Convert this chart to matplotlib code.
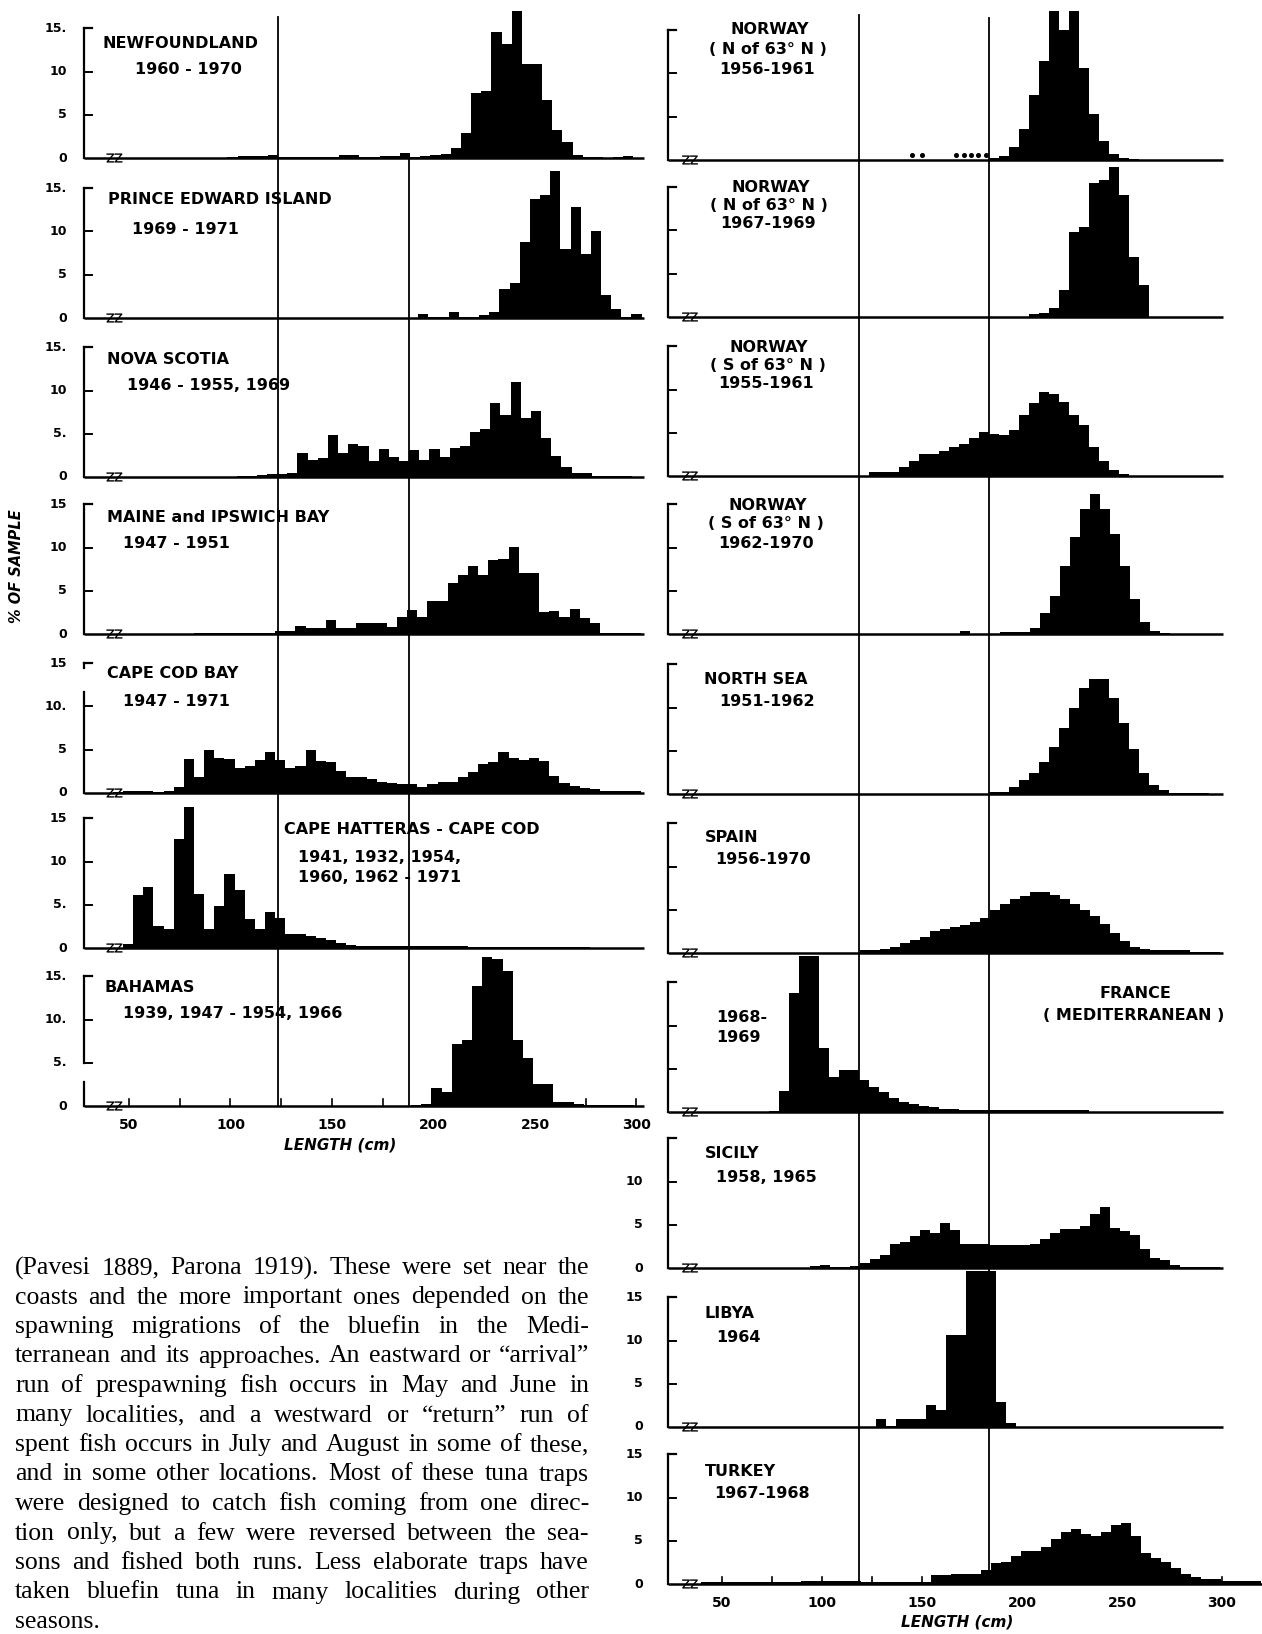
import matplotlib
matplotlib.use("Agg")
import matplotlib.pyplot as plt
from matplotlib.lines import Line2D

# % of sample in 5 cm length classes; *_x0 = lower edge of first class (cm)
newfoundland_x0 = 98.5
newfoundland_pct = [0.1, 0.2, 0.2, 0.2, 0.3, 0.1, 0.1, 0.1, 0.1, 0.1,
                    0.1, 0.3, 0.3, 0.1, 0.1, 0.2, 0.2, 0.6, 0.1, 0.2,
                    0.3, 0.5, 1.2, 2.9, 7.5, 7.8, 14.6, 13.2, 17.0, 10.9,
                    10.9, 6.7, 3.2, 1.9, 0.3, 0.1, 0.1, 0.05, 0.1, 0.2]

pei_x0 = 192.5
pei_pct = [0.5, 0.1, 0.1, 0.7, 0.1, 0.1, 0.3, 0.7, 3.4, 4.1, 8.8,
           13.8, 14.2, 17.0, 8.0, 12.8, 7.4, 10.0, 2.7, 1.0, 0.1, 0.5]

nova_scotia_x0 = 103
nova_scotia_pct = [0.1, 0.1, 0.2, 0.3, 0.4, 0.5, 2.8, 2.0, 2.2, 4.9,
                   2.8, 3.8, 3.6, 1.8, 3.2, 2.3, 1.8, 3.1, 2.0, 3.2,
                   2.3, 3.4, 3.6, 5.2, 5.6, 8.5, 7.2, 11.0, 6.8, 7.6,
                   4.5, 2.4, 1.1, 0.5, 0.5, 0.1, 0.1, 0.1, 0.1]

maine_x0 = 82
maine_pct = [0.1, 0.1, 0.1, 0.1, 0.1, 0.1, 0.1, 0.1, 0.3, 0.4,
             0.9, 0.75, 0.75, 1.6, 0.75, 0.75, 1.25, 1.25, 1.3, 0.8,
             2.0, 2.8, 2.0, 3.8, 3.8, 5.9, 6.8, 7.9, 6.8, 8.6,
             8.7, 10.1, 7.0, 7.0, 2.6, 2.7, 2.0, 2.9, 1.8, 1.25,
             0.1, 0.1, 0.1, 0.1]

cape_cod_bay_x0 = 42
cape_cod_bay_pct = [0.1, 0.2, 0.2, 0.2, 0.1, 0.2, 0.65, 3.9, 1.9, 5.0,
                    4.0, 3.9, 2.9, 3.1, 3.8, 4.7, 3.8, 2.9, 3.1, 5.0,
                    3.7, 3.6, 2.6, 1.8, 1.8, 1.6, 1.3, 1.1, 1.0, 1.0,
                    0.7, 1.0, 1.3, 1.3, 1.8, 2.4, 3.4, 3.6, 4.7, 4.0,
                    3.8, 4.0, 3.7, 2.0, 1.2, 0.8, 0.55, 0.5, 0.25, 0.25,
                    0.25, 0.2]

hatteras_x0 = 47
hatteras_pct = [0.5, 6.1, 7.0, 2.6, 2.2, 12.6, 16.3, 6.3, 2.2, 4.8,
                8.6, 6.7, 3.4, 2.2, 4.2, 3.5, 1.6, 1.6, 1.4, 1.2,
                0.9, 0.6, 0.3, 0.2, 0.2, 0.2, 0.2, 0.2, 0.2, 0.2,
                0.2, 0.2, 0.2, 0.2, 0.1, 0.1, 0.1, 0.1, 0.1, 0.1,
                0.1, 0.1, 0.1, 0.1, 0.1, 0.1, 0.05, 0.05, 0.05]

bahamas_x0 = 189
bahamas_pct = [0.1, 0.25, 2.1, 1.6, 7.2, 7.6, 13.9, 17.2, 17.0, 15.6,
               7.6, 5.6, 2.6, 2.6, 0.45, 0.45, 0.2, 0.1, 0.1, 0.1, 0.1, 0.1]

norway_n1_x0 = 183.5
norway_n1_pct = [0.2, 0.5, 1.5, 3.6, 7.5, 11.5, 17.2, 15.0, 17.2, 10.6,
                 5.3, 2.2, 0.7, 0.2, 0.1]
norway_n1_dots = [145, 150, 167, 171, 174.5, 178, 182]

norway_n2_x0 = 203.5
norway_n2_pct = [0.4, 0.5, 1.0, 3.1, 9.8, 10.4, 15.5, 15.8, 17.3, 14.1, 6.9, 3.7]

norway_s1_x0 = 123.5
norway_s1_pct = [0.45, 0.45, 0.45, 1.0, 1.7, 2.5, 2.6, 2.9, 3.3, 3.7,
                 4.4, 5.1, 4.8, 4.7, 5.3, 7.0, 8.4, 9.7, 9.5, 8.5,
                 7.0, 5.9, 3.3, 1.7, 0.7, 0.2, 0.05, 0.05, 0.05, 0.05,
                 0.05, 0.05, 0.05, 0.05, 0.05]

norway_s2_x0 = 169
norway_s2_pct = [0.35, 0.0, 0.0, 0.05, 0.25, 0.25, 0.25, 0.65, 2.45, 4.4,
                 7.9, 11.2, 14.4, 16.2, 14.4, 11.6, 7.9, 4.0, 1.4, 0.3, 0.1]

north_sea_x0 = 183.5
north_sea_pct = [0.25, 0.25, 0.8, 1.6, 2.4, 3.75, 5.45, 7.65, 9.9, 12.2,
                 13.3, 13.3, 11.1, 8.2, 5.2, 2.4, 1.0, 0.45, 0.1, 0.1, 0.1, 0.1]

spain_x0 = 119
spain_pct = [0.3, 0.3, 0.5, 0.75, 1.1, 1.5, 1.9, 2.6, 2.8, 3.0,
             3.25, 3.6, 4.1, 5.0, 5.7, 6.2, 6.6, 7.0, 7.0, 6.7,
             6.3, 5.7, 5.0, 4.3, 3.3, 2.3, 1.4, 0.75, 0.5, 0.3,
             0.3, 0.3, 0.3, 0.1, 0.1, 0.1]

france_x0 = 73.5
france_pct = [0.1, 2.4, 13.7, 18.0, 18.0, 7.4, 4.0, 4.9, 4.9, 3.7,
              2.9, 2.3, 1.6, 1.1, 0.95, 0.75, 0.55, 0.4, 0.3, 0.2,
              0.2, 0.2, 0.2, 0.2, 0.2, 0.2, 0.2, 0.2, 0.2, 0.2, 0.2, 0.2]

sicily_x0 = 94
sicily_pct = [0.2, 0.35, 0.1, 0.1, 0.2, 0.6, 1.0, 1.5, 2.8, 3.0,
              3.7, 4.4, 4.1, 5.2, 4.4, 2.8, 2.8, 2.8, 2.7, 2.7,
              2.7, 2.7, 2.8, 3.4, 4.0, 4.5, 4.5, 4.9, 6.3, 7.1,
              4.6, 4.3, 3.8, 2.2, 1.2, 0.9, 0.4, 0.15, 0.15, 0.15, 0.15]

libya_x0 = 127
libya_pct = [0.9, 0.1, 0.9, 0.9, 0.9, 2.5, 2.0, 10.6, 10.6, 18.0,
             18.0, 18.0, 2.9, 0.5]

turkey_x0 = 39.5
turkey_pct = [0.2, 0.2, 0.2, 0.2, 0.2, 0.2, 0.2, 0.2, 0.2, 0.2,
              0.35, 0.35, 0.35, 0.35, 0.35, 0.35, 0.25, 0.25, 0.25, 0.25,
              0.25, 0.25, 0.25, 1.0, 1.0, 1.2, 1.2, 1.15, 1.6, 2.4,
              2.6, 3.2, 3.8, 3.8, 4.3, 5.2, 6.0, 6.4, 5.8, 5.6,
              6.0, 6.8, 7.1, 5.5, 3.6, 3.0, 2.6, 1.9, 1.2, 0.85,
              0.55, 0.55, 0.4, 0.4, 0.4, 0.4]

length_ticks = [50, 100, 150, 200, 250, 300]
ref_lines_left = [123.5, 188]
ref_lines_right = [118.5, 183.5]

paragraph = [
    "(Pavesi 1889, Parona 1919). These were set near the",
    "coasts and the more important ones depended on the",
    "spawning migrations of the bluefin in the Medi-",
    "terranean and its approaches. An eastward or \u201carrival\u201d",
    "run of prespawning fish occurs in May and June in",
    "many localities, and a westward or \u201creturn\u201d run of",
    "spent fish occurs in July and August in some of these,",
    "and in some other locations. Most of these tuna traps",
    "were designed to catch fish coming from one direc-",
    "tion only, but a few were reversed between the sea-",
    "sons and fished both runs. Less elaborate traps have",
    "taken bluefin tuna in many localities during other",
    "seasons.",
]

# ---------------- layout (pixels) ----------------
W, H = 1262, 1634
U = 8.65      # px per 1 %
BIN = 5
COLS = [dict(left=84, right=644, px50=129, k=2.03, lab=67),
        dict(left=668, right=1223, px50=722, k=2.0, lab=643)]


def cm2px(col, cm):
    c = COLS[col]
    return c['px50'] + (cm - 50) * c['k']


def px2cm(col, px):
    c = COLS[col]
    return 50 + (px - c['px50']) / c['k']


panels = [
    dict(col=0, zero=158, x0=newfoundland_x0, pct=newfoundland_pct,
         ylab=['0', '5', '10', '15.'],
         titles=[('NEWFOUNDLAND', 102, 43, 'left'), ('1960 - 1970', 135, 70, 'left')]),
    dict(col=0, zero=318, x0=pei_x0, pct=pei_pct,
         ylab=['0', '5', '10', '15.'],
         titles=[('PRINCE EDWARD ISLAND', 108, 200, 'left'), ('1969 - 1971', 132, 229, 'left')]),
    dict(col=0, zero=477, x0=nova_scotia_x0, pct=nova_scotia_pct,
         ylab=['0', '5.', '10', '15.'],
         titles=[('NOVA SCOTIA', 107, 360, 'left'), ('1946 - 1955, 1969', 127, 385, 'left')]),
    dict(col=0, zero=634, x0=maine_x0, pct=maine_pct,
         ylab=['0', '5', '10', '15'],
         titles=[('MAINE and IPSWICH BAY', 107, 517, 'left'), ('1947 - 1951', 123, 543, 'left')]),
    dict(col=0, zero=793, x0=cape_cod_bay_x0, pct=cape_cod_bay_pct,
         ylab=['0', '5', '10.', '15'], gap=(11.7, 14.4),
         titles=[('CAPE COD BAY', 107, 674, 'left'), ('1947 - 1971', 123, 702, 'left')]),
    dict(col=0, zero=948, x0=hatteras_x0, pct=hatteras_pct,
         ylab=['0', '5.', '10', '15'],
         titles=[('CAPE HATTERAS - CAPE COD', 284, 830, 'left'),
                 ('1941, 1932, 1954,', 298, 858, 'left'), ('1960, 1962 - 1971', 298, 877, 'left')]),
    dict(col=0, zero=1106, x0=bahamas_x0, pct=bahamas_pct,
         ylab=['0', '5.', '10.', '15.'], gap=(2.8, 5.0), bottom=True,
         titles=[('BAHAMAS', 104, 988, 'left'), ('1939, 1947 - 1954, 1966', 123, 1013, 'left')]),
    dict(col=1, zero=160, x0=norway_n1_x0, pct=norway_n1_pct, dots=norway_n1_dots,
         titles=[('NORWAY', 770, 30, 'center'), ('( N of 63\u00b0 N )', 768, 50, 'center'),
                 ('1956-1961', 767, 70, 'center')]),
    dict(col=1, zero=317, x0=norway_n2_x0, pct=norway_n2_pct,
         titles=[('NORWAY', 771, 188, 'center'), ('( N of 63\u00b0 N )', 769, 205, 'center'),
                 ('1967-1969', 768, 223, 'center')]),
    dict(col=1, zero=476, x0=norway_s1_x0, pct=norway_s1_pct,
         titles=[('NORWAY', 769, 347, 'center'), ('( S of 63\u00b0 N )', 768, 366, 'center'),
                 ('1955-1961', 766, 383, 'center')]),
    dict(col=1, zero=634, x0=norway_s2_x0, pct=norway_s2_pct,
         titles=[('NORWAY', 768, 505, 'center'), ('( S of 63\u00b0 N )', 766, 524, 'center'),
                 ('1962-1970', 766, 543, 'center')]),
    dict(col=1, zero=794, x0=north_sea_x0, pct=north_sea_pct,
         titles=[('NORTH SEA', 704, 680, 'left'), ('1951-1962', 719, 702, 'left')]),
    dict(col=1, zero=953, x0=spain_x0, pct=spain_pct,
         titles=[('SPAIN', 705, 838, 'left'), ('1956-1970', 715, 860, 'left')]),
    dict(col=1, zero=1112, x0=france_x0, pct=france_pct,
         titles=[('1968-', 716, 1018, 'left'), ('1969', 716, 1037, 'left'),
                 ('FRANCE', 1135, 993, 'center'), ('( MEDITERRANEAN )', 1134, 1015, 'center')]),
    dict(col=1, zero=1268, x0=sicily_x0, pct=sicily_pct,
         ylab=['0', '5', '10', ''],
         titles=[('SICILY', 705, 1153, 'left'), ('1958, 1965', 716, 1178, 'left')]),
    dict(col=1, zero=1427, x0=libya_x0, pct=libya_pct,
         ylab=['0', '5', '10', '15'],
         titles=[('LIBYA', 705, 1313, 'left'), ('1964', 716, 1337, 'left')]),
    dict(col=1, zero=1584, x0=turkey_x0, pct=turkey_pct, axis_px=1262,
         ylab=['0', '5', '10', '15'], bottom=True,
         titles=[('TURKEY', 705, 1472, 'left'), ('1967-1968', 714, 1493, 'left')]),
]

fig = plt.figure(figsize=(W / 100, H / 100), dpi=100)
fig.patch.set_facecolor('white')


def put(px, py, s, **kw):
    return fig.text(px / W, 1 - py / H, s, **kw)


title_kw = dict(fontsize=11.5, weight='bold', family='DejaVu Sans', va='center')

for p in panels:
    ci = p['col']
    c = COLS[ci]
    xmin, xmax = px2cm(ci, c['left']), px2cm(ci, c['right'])
    ax = fig.add_axes([c['left'] / W, 1 - p['zero'] / H,
                       (c['right'] - c['left']) / W, 18 * U / H])
    ax.set_xlim(xmin, xmax)
    ax.set_ylim(0, 18)
    ax.set_axis_off()

    edges = [p['x0'] + i * BIN for i in range(len(p['pct']))]
    ax.bar(edges, p['pct'], width=BIN, align='edge', color='black',
           linewidth=0, clip_on=False)
    if 'dots' in p:
        ax.plot(p['dots'], [0.6] * len(p['dots']), 'o', ms=2.6,
                color='black', clip_on=False)

    end = px2cm(ci, p.get('axis_px', c['right']))
    ax.plot([xmin, end], [0, 0], color='black', lw=1.8, clip_on=False,
            solid_capstyle='butt')

    # bracket-shaped y axis
    gap = p.get('gap')
    segs = [(0, gap[0]), (gap[1], 15)] if gap else [(0, 15)]
    for a, b in segs:
        ax.plot([xmin, xmin], [a, b], color='black', lw=1.6, clip_on=False)
    ax.plot([xmin, xmin + 4], [15, 15], color='black', lw=1.6, clip_on=False)
    for v in (5, 10):
        ax.plot([xmin, xmin + 4], [v, v], color='black', lw=1.4, clip_on=False)

    # axis-break marks
    bx = xmin + (13 if ci == 0 else 9)
    for b in (bx, bx + 4):
        ax.plot([b - 1.6, b + 1.6, b - 1.6, b + 1.6], [0.45, 0.45, -0.45, -0.45],
                color='black', lw=1.0, clip_on=False)

    if p.get('ylab'):
        for v, lab in zip((0, 5, 10, 15), p['ylab']):
            put(c['lab'], p['zero'] - v * U, lab, ha='right', va='center',
                fontsize=9, weight='bold')

    for s, tx, ty, ha in p['titles']:
        put(tx, ty, s, ha=ha, **title_kw)

    if p.get('bottom'):
        for t in range(50, 301, 25):
            ax.plot([t, t], [0, 0.8], color='black', lw=1.2, clip_on=False)
        for t in length_ticks:
            put(cm2px(ci, t), p['zero'] + 19, str(t), ha='center', va='center',
                fontsize=10, weight='bold')

# long reference lines across the panels
for cm, y1 in zip(ref_lines_left, (17, 158)):
    x = cm2px(0, cm) / W
    fig.add_artist(Line2D([x, x], [1 - y1 / H, 1 - 1106 / H], color='black', lw=1.3))
for cm, y1 in zip(ref_lines_right, (15, 18)):
    x = cm2px(1, cm) / W
    fig.add_artist(Line2D([x, x], [1 - y1 / H, 1 - 1584 / H], color='black', lw=1.3))

put(340, 1145, 'LENGTH (cm)', ha='center', va='center', fontsize=11,
    weight='bold', style='italic')
put(957, 1622, 'LENGTH (cm)', ha='center', va='center', fontsize=11,
    weight='bold', style='italic')
put(17, 566, '% OF SAMPLE', ha='center', va='center', rotation=90,
    fontsize=10.5, weight='bold', style='italic')

# justified text block
renderer = fig.canvas.get_renderer()
txt_kw = dict(fontsize=18.5, family='Liberation Serif', va='center', ha='left')
left_px, right_px = 15, 589
for i, line in enumerate(paragraph):
    y = 1268 + i * 29.5
    words = line.split(' ')
    widths = []
    for w in words:
        t = put(0, 0, w, **txt_kw)
        widths.append(t.get_window_extent(renderer).width)
        t.remove()
    if i == len(paragraph) - 1:
        gap = 6
    else:
        gap = max((right_px - left_px - sum(widths)) / (len(words) - 1), 2)
    x = left_px
    for w, wd in zip(words, widths):
        put(x, y, w, **txt_kw)
        x += wd + gap

fig.savefig('out.png', dpi=100, facecolor='white')
